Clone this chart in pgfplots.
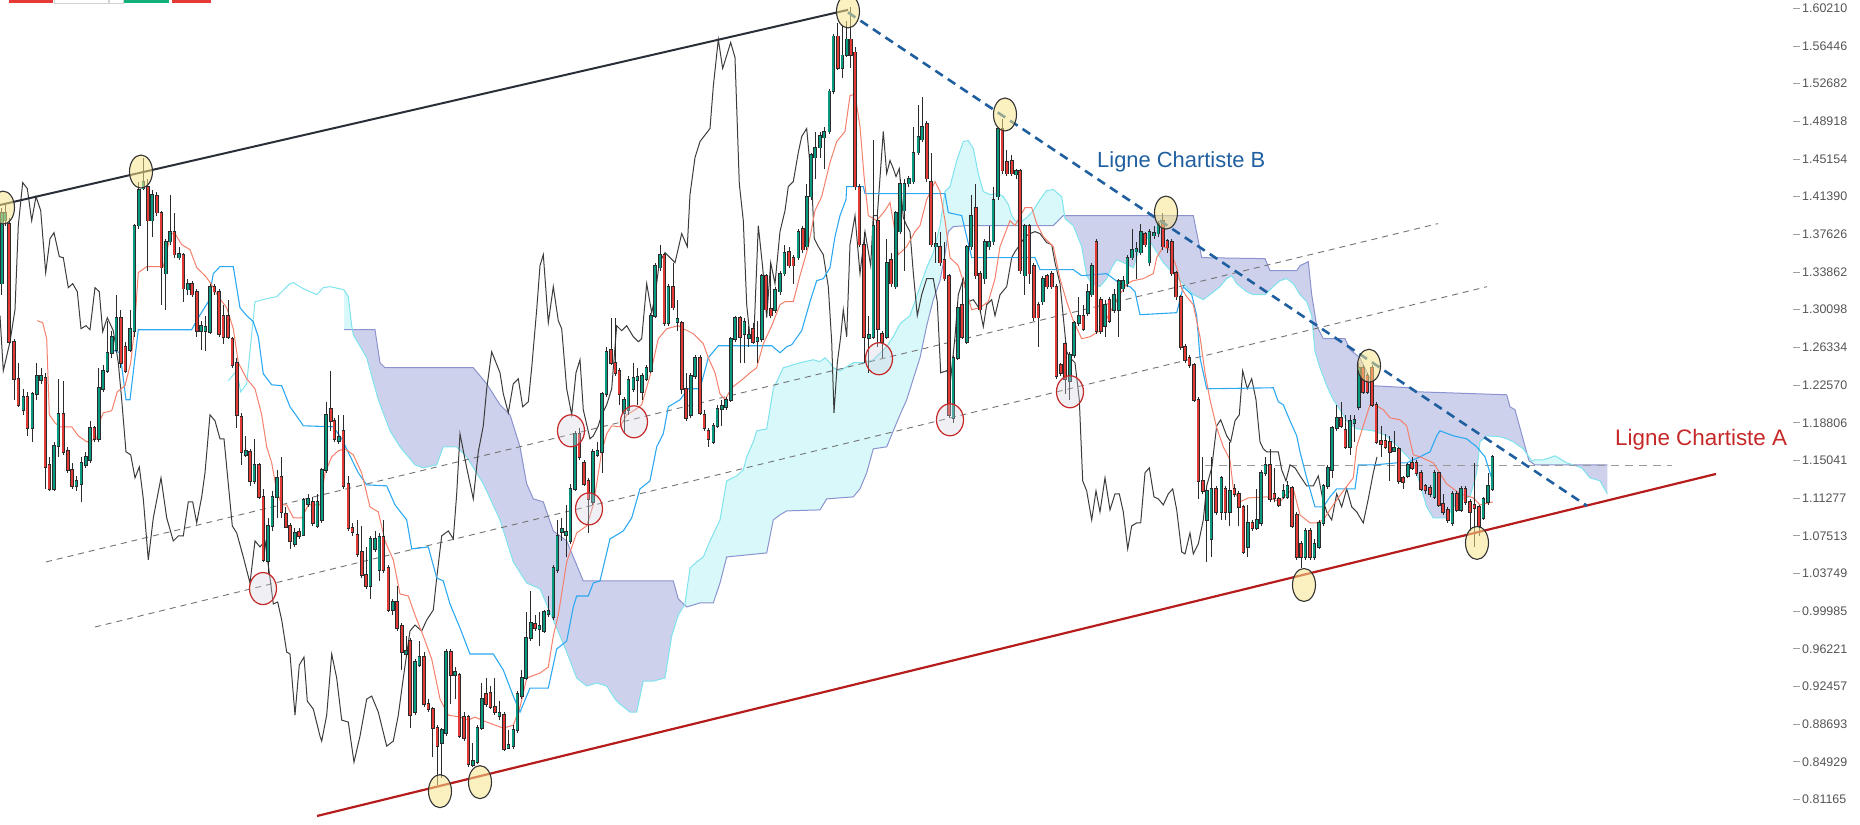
\documentclass[border=0pt]{standalone}
\usepackage{fontspec}
\setmainfont{Liberation Sans}
\usepackage{pgfplots}
\usepackage{pgfplotstable}
\pgfplotsset{compat=1.18}
\usepgfplotslibrary{fillbetween}
\definecolor{upc}{HTML}{089981}
\definecolor{dnc}{HTML}{E53935}
\definecolor{wick}{HTML}{2B2B2B}
\definecolor{tenkan}{HTML}{F4806B}
\definecolor{kijun}{HTML}{2CA9F2}
\definecolor{chikou}{HTML}{3C3C3C}
\definecolor{sa}{HTML}{7FE3EE}
\definecolor{sb}{HTML}{8B93CF}
\definecolor{cyanfill}{HTML}{D8F8F9}
\definecolor{purplefill}{HTML}{CDD1EC}
\definecolor{lineA}{HTML}{B71C1C}
\definecolor{lineB}{HTML}{1F5F9F}
\definecolor{topline}{HTML}{2A2E39}
\definecolor{labgray}{HTML}{555555}
\definecolor{yelc}{HTML}{F7E48A}
\definecolor{redc}{HTML}{C62828}
\definecolor{tbred}{HTML}{E53935}
\definecolor{tbgreen}{HTML}{10B07A}
\pgfdeclareplotmark{yell}{\pgfpathellipse{\pgfpointorigin}{\pgfpoint{11.5bp}{0bp}}{\pgfpoint{0bp}{16.5bp}}\pgfusepathqfillstroke}
\pgfdeclareplotmark{rell}{\pgfpathellipse{\pgfpointorigin}{\pgfpoint{13.5bp}{0bp}}{\pgfpoint{0bp}{16bp}}\pgfusepathqfillstroke}

\pgfplotstableread{
x o h l c
1.7 1.327 1.403 1.316 1.398
5 1.390 1.408 1.385 1.398
23.3 1.201 1.222 1.196 1.214
32.3 1.183 1.219 1.169 1.217
36.7 1.217 1.248 1.211 1.235
41 1.231 1.243 1.227 1.235
54 1.122 1.169 1.120 1.165
58.3 1.165 1.232 1.154 1.197
76.3 1.125 1.135 1.120 1.130
81.3 1.127 1.154 1.109 1.148
85.7 1.146 1.159 1.143 1.154
90 1.151 1.190 1.148 1.183
98.7 1.172 1.243 1.169 1.223
103 1.222 1.246 1.219 1.240
107.3 1.240 1.290 1.238 1.258
111.7 1.258 1.280 1.253 1.274
116.3 1.261 1.316 1.259 1.293
130 1.261 1.301 1.259 1.282
134.3 1.280 1.387 1.274 1.385
138.7 1.385 1.429 1.382 1.421
143.3 1.422 1.453 1.421 1.429
152 1.390 1.421 1.374 1.416
165.7 1.337 1.372 1.301 1.369
170 1.369 1.416 1.366 1.379
179 1.353 1.364 1.351 1.357
187.7 1.321 1.332 1.316 1.327
201 1.280 1.290 1.261 1.285
205.3 1.280 1.295 1.260 1.284
210 1.279 1.327 1.277 1.324
245.7 1.156 1.175 1.154 1.160
254.3 1.130 1.172 1.127 1.146
268 1.050 1.093 1.038 1.085
272.3 1.085 1.120 1.080 1.114
277 1.114 1.141 1.093 1.133
294.7 1.067 1.083 1.064 1.078
303.3 1.076 1.113 1.075 1.111
308 1.107 1.117 1.104 1.112
317.3 1.085 1.117 1.083 1.109
321.7 1.091 1.143 1.088 1.141
326 1.141 1.209 1.138 1.196
338.7 1.170 1.196 1.167 1.174
370.3 1.025 1.075 1.012 1.072
375 1.062 1.080 1.059 1.072
379.3 1.041 1.078 1.030 1.074
392.7 1.001 1.012 0.996 1.009
406 0.957 0.975 0.954 0.960
415 0.899 0.952 0.896 0.949
419.3 0.946 0.970 0.944 0.954
441.7 0.868 0.883 0.833 0.881
446 0.878 0.962 0.875 0.959
455 0.936 0.944 0.912 0.939
472.7 0.846 0.868 0.844 0.850
477.3 0.849 0.886 0.847 0.883
481.7 0.883 0.928 0.881 0.912
499.3 0.895 0.910 0.891 0.898
508.3 0.863 0.881 0.862 0.866
513.3 0.865 0.886 0.862 0.881
517.3 0.881 0.920 0.878 0.917
521.7 0.915 0.941 0.912 0.933
526 0.933 0.999 0.931 0.973
530.7 0.973 1.020 0.970 0.988
539.3 0.982 0.999 0.965 0.985
544 0.980 1.001 0.978 0.999
548.3 0.997 1.015 0.994 1.000
553.3 0.994 1.046 0.991 1.043
557.3 1.041 1.091 1.038 1.075
561.7 1.079 1.093 1.070 1.082
566 1.076 1.106 1.054 1.079
570.3 1.070 1.127 1.067 1.122
575 1.122 1.180 1.120 1.177
592.7 1.109 1.162 1.106 1.159
597.3 1.156 1.169 1.154 1.160
602 1.159 1.219 1.138 1.217
606.3 1.217 1.264 1.214 1.259
624 1.198 1.214 1.177 1.211
628.3 1.201 1.235 1.196 1.231
633.3 1.222 1.248 1.219 1.233
637.3 1.231 1.243 1.206 1.234
642 1.219 1.238 1.211 1.235
646.3 1.232 1.246 1.230 1.243
650.7 1.240 1.298 1.238 1.295
655 1.295 1.348 1.293 1.345
660 1.343 1.366 1.340 1.356
668.3 1.288 1.327 1.285 1.324
677.3 1.289 1.311 1.280 1.292
690.7 1.196 1.238 1.193 1.235
695 1.235 1.256 1.232 1.253
713.3 1.169 1.188 1.167 1.185
717.3 1.185 1.206 1.183 1.202
721.7 1.202 1.211 1.185 1.205
726 1.204 1.214 1.201 1.211
730.7 1.211 1.274 1.209 1.272
735 1.272 1.295 1.269 1.293
744.3 1.277 1.293 1.248 1.289
748.7 1.273 1.285 1.264 1.276
757.3 1.270 1.290 1.248 1.273
761.7 1.272 1.337 1.269 1.335
775 1.301 1.324 1.298 1.321
780 1.319 1.340 1.316 1.337
784.3 1.337 1.366 1.335 1.358
798.3 1.353 1.382 1.351 1.379
806.7 1.364 1.427 1.361 1.414
811 1.414 1.458 1.411 1.456
815 1.453 1.479 1.432 1.463
820 1.463 1.479 1.453 1.475
824 1.473 1.484 1.442 1.479
829.3 1.479 1.521 1.477 1.519
833.3 1.519 1.576 1.516 1.574
842.3 1.542 1.584 1.532 1.555
846.7 1.555 1.589 1.553 1.571
868.7 1.273 1.295 1.238 1.276
873.3 1.274 1.471 1.272 1.385
886.7 1.274 1.372 1.272 1.348
895.7 1.324 1.400 1.322 1.398
900 1.379 1.432 1.377 1.427
904.3 1.400 1.432 1.340 1.427
908.7 1.427 1.435 1.424 1.432
913.3 1.429 1.484 1.427 1.458
918.3 1.458 1.505 1.456 1.474
922 1.471 1.513 1.469 1.484
935.7 1.364 1.379 1.348 1.367
953.3 1.193 1.256 1.188 1.253
957.7 1.253 1.309 1.251 1.303
966.7 1.269 1.366 1.267 1.364
971 1.364 1.416 1.361 1.395
984.7 1.332 1.372 1.327 1.369
989 1.364 1.385 1.361 1.369
993.3 1.369 1.424 1.366 1.411
998 1.414 1.484 1.411 1.482
1016 1.436 1.442 1.432 1.440
1024.7 1.335 1.387 1.316 1.385
1042.7 1.309 1.335 1.306 1.332
1069.7 1.230 1.259 1.211 1.256
1074 1.256 1.290 1.253 1.288
1078.7 1.288 1.314 1.285 1.295
1087.7 1.298 1.327 1.295 1.319
1091.7 1.316 1.348 1.314 1.345
1105 1.285 1.311 1.274 1.306
1114 1.301 1.322 1.298 1.316
1118.7 1.301 1.332 1.274 1.330
1123 1.322 1.335 1.319 1.330
1127.3 1.327 1.356 1.324 1.353
1132 1.353 1.382 1.351 1.361
1136.3 1.359 1.369 1.332 1.362
1140.7 1.358 1.387 1.356 1.379
1149.3 1.348 1.382 1.345 1.379
1154 1.375 1.385 1.372 1.378
1158.3 1.377 1.390 1.374 1.387
1206.7 1.091 1.122 1.049 1.120
1211.3 1.072 1.154 1.054 1.122
1221.3 1.099 1.135 1.091 1.133
1229.7 1.099 1.169 1.085 1.120
1247.7 1.064 1.106 1.054 1.088
1256.7 1.083 1.122 1.081 1.091
1261 1.088 1.141 1.085 1.138
1265.3 1.138 1.154 1.135 1.146
1283.3 1.114 1.127 1.112 1.120
1287.3 1.114 1.130 1.112 1.125
1305.3 1.054 1.083 1.051 1.080
1314.3 1.054 1.072 1.051 1.067
1319 1.064 1.091 1.062 1.088
1323.3 1.088 1.127 1.085 1.125
1327.7 1.125 1.146 1.122 1.143
1332 1.141 1.185 1.133 1.183
1336.7 1.183 1.206 1.180 1.193
1350 1.164 1.196 1.156 1.190
1354.3 1.188 1.196 1.169 1.191
1358.7 1.204 1.248 1.201 1.243
1394 1.160 1.180 1.159 1.163
1407.7 1.135 1.148 1.133 1.146
1434.3 1.114 1.141 1.112 1.138
1452.3 1.088 1.120 1.085 1.117
1461 1.101 1.125 1.099 1.122
1483.3 1.093 1.114 1.091 1.112
1488 1.109 1.138 1.106 1.125
1492.3 1.122 1.156 1.120 1.154
}\up

\pgfplotstableread{
x o h l c
9.3 1.387 1.393 1.267 1.269
14 1.269 1.272 1.211 1.232
18.3 1.232 1.248 1.204 1.206
27.3 1.214 1.219 1.175 1.183
45.3 1.233 1.238 1.122 1.144
49.3 1.146 1.154 1.120 1.122
63.3 1.197 1.230 1.156 1.159
67.7 1.160 1.164 1.138 1.141
72 1.141 1.148 1.122 1.125
94.3 1.183 1.185 1.169 1.172
120.7 1.293 1.301 1.243 1.248
125.3 1.264 1.269 1.238 1.240
147.7 1.424 1.432 1.340 1.390
156.7 1.415 1.419 1.395 1.398
161.3 1.398 1.400 1.306 1.343
174.3 1.379 1.398 1.353 1.356
183.3 1.356 1.358 1.309 1.322
192 1.327 1.330 1.314 1.316
196.7 1.319 1.322 1.274 1.280
214.3 1.324 1.327 1.316 1.319
219 1.319 1.322 1.274 1.277
223.3 1.295 1.306 1.267 1.274
228 1.295 1.311 1.272 1.274
232.3 1.272 1.274 1.243 1.246
236.7 1.248 1.253 1.183 1.196
241.3 1.194 1.198 1.146 1.159
250 1.159 1.162 1.125 1.130
259 1.146 1.148 1.112 1.114
263.3 1.114 1.122 1.049 1.051
281.3 1.134 1.154 1.093 1.099
285.7 1.097 1.104 1.083 1.084
290 1.085 1.088 1.062 1.070
299 1.079 1.083 1.072 1.075
312.7 1.109 1.114 1.085 1.088
330.7 1.202 1.240 1.180 1.190
334.3 1.190 1.193 1.169 1.172
343.3 1.180 1.196 1.122 1.125
348.3 1.127 1.135 1.080 1.083
352.3 1.083 1.088 1.075 1.079
357.3 1.076 1.091 1.054 1.057
361.7 1.059 1.085 1.033 1.036
366 1.036 1.064 1.022 1.025
383.3 1.074 1.091 1.038 1.041
388.3 1.043 1.046 0.999 1.001
397 1.009 1.025 0.980 0.983
401.7 0.985 0.988 0.941 0.959
410 0.970 0.973 0.883 0.896
424 0.954 0.959 0.904 0.907
428.3 0.907 0.912 0.899 0.902
432.7 0.902 0.904 0.854 0.883
437.3 0.883 0.886 0.826 0.865
450.7 0.959 0.962 0.907 0.936
459.3 0.936 0.938 0.873 0.875
464 0.894 0.899 0.870 0.873
468.3 0.894 0.896 0.844 0.847
486 0.917 0.933 0.904 0.907
490.3 0.918 0.925 0.902 0.904
494.7 0.904 0.933 0.896 0.899
504 0.896 0.899 0.860 0.862
535 0.987 0.996 0.980 0.983
579.3 1.177 1.183 1.151 1.154
584 1.148 1.151 1.125 1.127
588.3 1.130 1.133 1.078 1.112
611 1.261 1.293 1.246 1.248
615.3 1.248 1.293 1.235 1.238
619.3 1.240 1.243 1.206 1.217
664.3 1.356 1.358 1.285 1.288
673 1.324 1.348 1.301 1.303
681.7 1.288 1.290 1.217 1.222
686 1.222 1.238 1.190 1.193
700 1.253 1.256 1.196 1.198
704.3 1.196 1.201 1.180 1.183
708.3 1.180 1.183 1.164 1.172
740 1.293 1.295 1.248 1.274
753 1.282 1.288 1.267 1.269
766 1.335 1.337 1.298 1.301
770.7 1.302 1.348 1.293 1.295
789 1.359 1.364 1.343 1.345
793.3 1.353 1.356 1.327 1.345
802.7 1.382 1.385 1.358 1.361
837.7 1.574 1.587 1.540 1.542
850.7 1.571 1.603 1.542 1.555
855 1.558 1.563 1.421 1.424
859.3 1.424 1.427 1.364 1.366
864 1.366 1.379 1.248 1.274
877.7 1.390 1.395 1.264 1.282
882 1.277 1.280 1.253 1.269
891 1.351 1.358 1.324 1.327
926.7 1.487 1.490 1.429 1.432
931 1.429 1.458 1.364 1.366
940 1.364 1.379 1.345 1.348
944.3 1.351 1.369 1.330 1.332
949 1.335 1.337 1.193 1.196
962 1.306 1.332 1.272 1.274
975.7 1.403 1.427 1.332 1.335
980 1.337 1.340 1.298 1.301
1002.3 1.482 1.492 1.437 1.440
1006.7 1.449 1.461 1.435 1.437
1011.7 1.450 1.456 1.435 1.437
1020 1.440 1.442 1.337 1.340
1029.3 1.385 1.387 1.327 1.337
1033.7 1.345 1.348 1.290 1.293
1038.3 1.306 1.309 1.264 1.293
1047 1.335 1.337 1.322 1.324
1051.7 1.337 1.340 1.322 1.324
1056.3 1.324 1.327 1.232 1.235
1060.7 1.246 1.248 1.235 1.238
1065 1.267 1.269 1.217 1.232
1083.3 1.295 1.306 1.280 1.282
1096.3 1.369 1.372 1.277 1.280
1100.7 1.311 1.314 1.277 1.280
1109.3 1.311 1.314 1.288 1.290
1145 1.377 1.379 1.364 1.366
1162.7 1.390 1.398 1.361 1.364
1167.3 1.370 1.372 1.358 1.363
1171.7 1.369 1.372 1.335 1.337
1176 1.338 1.340 1.311 1.314
1180.7 1.314 1.316 1.261 1.264
1185 1.264 1.267 1.248 1.251
1189.3 1.253 1.256 1.243 1.246
1194 1.246 1.248 1.209 1.211
1198.3 1.211 1.214 1.112 1.130
1202.7 1.130 1.154 1.117 1.120
1216 1.122 1.125 1.096 1.099
1225.3 1.122 1.125 1.091 1.099
1234.3 1.122 1.127 1.114 1.117
1238.7 1.117 1.120 1.085 1.104
1243.3 1.104 1.106 1.057 1.059
1252.3 1.088 1.091 1.080 1.083
1270 1.146 1.162 1.109 1.112
1274.3 1.117 1.143 1.109 1.113
1278.7 1.112 1.114 1.104 1.106
1292 1.123 1.125 1.083 1.085
1296.7 1.096 1.099 1.051 1.054
1301 1.067 1.070 1.043 1.054
1310 1.080 1.083 1.051 1.054
1341 1.193 1.209 1.183 1.185
1345.3 1.181 1.196 1.162 1.164
1363 1.243 1.246 1.217 1.219
1367.3 1.235 1.238 1.217 1.219
1372 1.243 1.246 1.204 1.206
1376.3 1.206 1.209 1.167 1.169
1381 1.170 1.185 1.154 1.167
1385.3 1.170 1.177 1.162 1.164
1389.7 1.169 1.175 1.130 1.159
1398.7 1.162 1.164 1.127 1.130
1403 1.133 1.135 1.122 1.129
1412 1.148 1.154 1.141 1.143
1416.3 1.148 1.151 1.135 1.138
1421 1.138 1.141 1.120 1.122
1425.3 1.125 1.127 1.117 1.121
1430 1.123 1.126 1.114 1.117
1438.7 1.138 1.139 1.104 1.106
1443 1.107 1.117 1.096 1.099
1447.7 1.101 1.104 1.088 1.091
1456.7 1.117 1.120 1.099 1.101
1465.3 1.122 1.125 1.106 1.109
1470 1.109 1.112 1.080 1.099
1474.3 1.106 1.148 1.064 1.103
1479 1.104 1.106 1.075 1.085
}\down

\begin{document}
\begin{tikzpicture}
\begin{axis}[
  set layers,
  scale only axis, width=1793bp, height=825bp,
  xmin=0, xmax=1793, ymin=0.7862, ymax=1.6104,
  axis line style={draw=none},
  xtick=\empty,
  ytick={0.81165,0.84929,0.88693,0.92457,0.96221,0.99985,1.03749,1.07513,1.11277,1.15041,1.18806,1.22570,1.26334,1.30098,1.33862,1.37626,1.41390,1.45154,1.48918,1.52682,1.56446,1.60210},
  yticklabels={0.81165,0.84929,0.88693,0.92457,0.96221,0.99985,1.03749,1.07513,1.11277,1.15041,1.18806,1.22570,1.26334,1.30098,1.33862,1.37626,1.41390,1.45154,1.48918,1.52682,1.56446,1.60210},
  ytick pos=right, yticklabel pos=right,
  tick align=outside, major tick length=6.5bp,
  tick style={color=gray!75, line width=0.7bp},
  yticklabel style={font=\fontsize{12.5}{14}\selectfont, text=labgray, anchor=west, inner sep=2.5bp},
]
% ---- Senkou B and A (named paths) ----
\addplot[sb, line width=1bp, name path=SB] coordinates {(344,1.281) (375,1.281) (380,1.248) (385,1.243) (473.3,1.243) (486.7,1.227) (500,1.206) (510,1.196) (520,1.164) (526.7,1.127) (533.3,1.112) (543.3,1.109) (553.3,1.080) (566.7,1.070) (583.3,1.030) (673.3,1.030) (678.3,1.012) (686.7,1.004) (700,1.008) (713.3,1.008) (720,1.028) (726.7,1.054) (766.7,1.058) (773.3,1.091) (780,1.096) (786.7,1.100) (820,1.101) (826.7,1.112) (853.3,1.114) (860,1.122) (866.7,1.138) (873.3,1.162) (886.7,1.164) (893.3,1.180) (900,1.196) (906.7,1.211) (913.3,1.232) (920,1.253) (926.7,1.285) (933.3,1.311) (940,1.330) (945,1.356) (948.3,1.379) (953.3,1.384) (966.7,1.385) (1053.3,1.385) (1063.3,1.395) (1193.3,1.395) (1201.7,1.353) (1265,1.352) (1270,1.340) (1296.7,1.340) (1300,1.345) (1308.3,1.349) (1311.7,1.316) (1316.7,1.285) (1323.3,1.272) (1345,1.272) (1350,1.261) (1360,1.253) (1373.3,1.225) (1410,1.223) (1416.7,1.219) (1506.7,1.216) (1510,1.204) (1515,1.201) (1529,1.150) (1535,1.146) (1607.3,1.146)};
\addplot[sa, line width=1bp, name path=SA] coordinates {(344,1.321) (348.3,1.314) (351.7,1.285) (353.3,1.276) (366.7,1.253) (378.3,1.211) (390,1.180) (400,1.164) (415,1.146) (423.3,1.143) (436.7,1.146) (443.3,1.164) (456.7,1.164) (466.7,1.154) (483.3,1.127) (500,1.091) (513.3,1.049) (526.7,1.028) (540,1.022) (553.3,0.991) (566.7,0.959) (576.7,0.933) (586.7,0.925) (596.7,0.928) (606.7,0.925) (615,0.912) (620,0.907) (630,0.899) (636.7,0.899) (643.3,0.930) (653.3,0.930) (665,0.933) (671.7,0.975) (678.3,0.996) (685,1.007) (690,1.043) (696.7,1.049) (703.3,1.054) (710,1.070) (720,1.091) (726.7,1.130) (736.7,1.135) (743.3,1.141) (746.7,1.154) (753.3,1.169) (756.7,1.180) (766.7,1.182) (773.3,1.222) (783.3,1.243) (800,1.248) (813.3,1.251) (820,1.249) (825,1.253) (830,1.248) (833.3,1.243) (840,1.240) (853.3,1.248) (863.3,1.248) (873.3,1.251) (886.7,1.264) (893.3,1.274) (900,1.287) (910,1.295) (920,1.324) (926.7,1.343) (933.3,1.358) (940,1.385) (945,1.419) (950,1.424) (956.7,1.450) (963.3,1.469) (968.3,1.470) (973.3,1.462) (978.3,1.437) (983.3,1.419) (990,1.416) (998.3,1.417) (1003.3,1.414) (1008.3,1.406) (1011.7,1.395) (1015,1.390) (1020,1.388) (1026.7,1.393) (1033.3,1.400) (1040,1.411) (1046.7,1.420) (1053.3,1.421) (1061.7,1.414) (1065,1.392) (1073.3,1.385) (1081.7,1.364) (1086.7,1.335) (1091.7,1.327) (1100,1.324) (1106.7,1.332) (1111.7,1.343) (1116.7,1.351) (1123.3,1.348) (1133.3,1.343) (1140,1.364) (1146.7,1.374) (1153.3,1.364) (1163.3,1.348) (1173.3,1.337) (1183.3,1.327) (1193.3,1.316) (1203.3,1.311) (1210,1.316) (1220,1.324) (1226.7,1.332) (1231.7,1.335) (1236.7,1.327) (1246.7,1.319) (1253.3,1.316) (1265,1.316) (1273.3,1.324) (1280,1.330) (1286.7,1.332) (1293.3,1.327) (1300,1.316) (1306.7,1.309) (1311.7,1.295) (1315,1.259) (1320,1.243) (1326.7,1.225) (1333.3,1.211) (1340,1.201) (1346.7,1.190) (1356.7,1.182) (1373.3,1.180) (1386.7,1.175) (1400,1.162) (1413.3,1.148) (1420,1.127) (1426.7,1.104) (1433.3,1.093) (1446.7,1.093) (1453.3,1.104) (1463.3,1.112) (1470,1.114) (1476.7,1.138) (1480,1.169) (1486.7,1.175) (1500,1.174) (1506.7,1.172) (1513.3,1.169) (1523.3,1.162) (1531.7,1.150) (1535,1.151) (1543.3,1.151) (1555,1.155) (1566.7,1.148) (1581.7,1.143) (1590,1.133) (1600,1.130) (1607.3,1.117)};
\addplot fill between[of=SA and SB, split, every even segment/.style={fill=cyanfill}, every odd segment/.style={fill=purplefill}];
\addplot[sa, line width=1bp] coordinates {(228.3,1.230) (236.7,1.240) (240.7,1.219) (246.7,1.227) (255,1.309) (266.7,1.312) (276.7,1.314) (290,1.327) (293.3,1.328) (303.3,1.322) (316.7,1.316) (323.3,1.323) (330,1.324) (344,1.321)};
% ---- gray dashed channel lines ----
\addplot[gray!90!black, line width=0.9bp, dash pattern=on 6bp off 5bp] coordinates {(46,1.049) (1438,1.387)};
\addplot[gray!90!black, line width=0.9bp, dash pattern=on 6bp off 5bp] coordinates {(95,0.984) (1487,1.324)};
\addplot[gray!80, line width=1.6bp, dash pattern=on 8bp off 6bp] coordinates {(1205,1.1452) (1672,1.1452)};
% ---- Chikou ----
\addplot[chikou, line width=1bp] coordinates {(0,1.295) (3.3,1.240) (10,1.269) (15,1.301) (18.3,1.385) (22.7,1.428) (27.3,1.422) (31.7,1.390) (36,1.414) (40.7,1.400) (45.7,1.338) (50,1.372) (54,1.378) (59.3,1.354) (63.3,1.353) (68.3,1.323) (72.7,1.327) (77.3,1.319) (81,1.282) (86,1.285) (90,1.281) (95,1.323) (99.3,1.319) (102.7,1.279) (107.3,1.293) (113.3,1.280) (118.3,1.248) (121.7,1.211) (126,1.159) (130.7,1.156) (135,1.133) (139.3,1.144) (143.3,1.112) (148.3,1.051) (153.3,1.093) (161,1.133) (166.7,1.093) (173.3,1.070) (178.3,1.075) (183.3,1.075) (188.3,1.109) (192.7,1.109) (196.7,1.088) (201.7,1.114) (205,1.138) (210,1.196) (215,1.190) (220,1.172) (224,1.172) (228.3,1.127) (232.3,1.085) (236.7,1.078) (243.3,1.054) (250,1.028) (255,1.070) (260,1.064) (265,1.070) (270,1.033) (273.3,1.007) (277.7,1.009) (281.7,0.991) (286.7,0.959) (290,0.957) (295,0.896) (299.3,0.946) (304,0.954) (307.3,0.910) (313.3,0.902) (320,0.875) (321.7,0.870) (326.7,0.896) (331.7,0.957) (336.7,0.933) (341.7,0.891) (348.3,0.889) (354,0.849) (360,0.875) (366.7,0.912) (371.7,0.915) (378.3,0.899) (386.7,0.865) (393.3,0.870) (398.3,0.896) (403.3,0.933) (410,0.980) (415,0.986) (421.7,0.980) (426.7,0.991) (433.3,1.001) (436.7,1.033) (441.7,1.075) (448.3,1.080) (453.3,1.072) (456.7,1.117) (460,1.177) (466.7,1.143) (473.3,1.112) (478.3,1.159) (483.3,1.185) (486.7,1.222) (491.7,1.259) (500,1.238) (503.3,1.217) (508.3,1.198) (513.3,1.227) (518.3,1.232) (522.7,1.204) (528.3,1.209) (531.7,1.243) (536.7,1.301) (540,1.345) (543.3,1.356) (548.3,1.288) (553.3,1.324) (558.3,1.290) (561.7,1.282) (566.7,1.222) (571.7,1.196) (576,1.238) (580,1.251) (583.3,1.201) (590,1.172) (593.3,1.175) (598.3,1.185) (601.7,1.196) (606.7,1.206) (611.7,1.222) (616.7,1.285) (621.7,1.280) (626.7,1.285) (633.3,1.274) (638.3,1.269) (641.7,1.272) (646.7,1.327) (651.7,1.298) (655,1.314) (659.3,1.348) (665,1.358) (670,1.353) (675,1.348) (681.7,1.377) (687.3,1.364) (690,1.416) (695,1.453) (700,1.469) (710,1.482) (713.3,1.524) (718.3,1.571) (722.7,1.542) (726.7,1.555) (730.7,1.568) (735,1.553) (739.3,1.427) (743.3,1.390) (746.7,1.306) (750,1.274) (754,1.277) (758.3,1.385) (762.7,1.343) (766.7,1.293) (770.7,1.348) (775,1.327) (780,1.379) (785,1.400) (788.3,1.424) (793.3,1.429) (798.3,1.458) (801.7,1.474) (806.7,1.482) (811.7,1.427) (814.3,1.372) (818.3,1.364) (823.3,1.356) (828.3,1.324) (831.7,1.269) (834,1.198) (837.3,1.248) (840.7,1.274) (843.3,1.301) (846.7,1.274) (850,1.366) (855,1.395) (860,1.337) (865,1.379) (870.7,1.345) (873.3,1.395) (877.3,1.395) (883.3,1.479) (886.7,1.437) (890,1.450) (893.3,1.442) (896,1.434) (899.3,1.442) (903.3,1.393) (906.7,1.385) (910,1.379) (913.3,1.338) (917.3,1.295) (921.7,1.316) (926.7,1.332) (933.3,1.332) (937.3,1.309) (940.7,1.238) (946.7,1.240) (950.7,1.232) (955,1.274) (958.3,1.316) (963.3,1.332) (968.3,1.309) (973.3,1.311) (980,1.301) (983.3,1.284) (986.7,1.306) (991.7,1.311) (995,1.295) (1000,1.316) (1006.7,1.324) (1011.7,1.353) (1015,1.359) (1020,1.366) (1025,1.374) (1030,1.377) (1035,1.379) (1040,1.377) (1046.7,1.368) (1051.7,1.366) (1055,1.348) (1060,1.327) (1066.7,1.259) (1070,1.253) (1075,1.248) (1079.3,1.211) (1082.7,1.130) (1086.7,1.120) (1091.7,1.091) (1096,1.120) (1100,1.099) (1105,1.133) (1110,1.101) (1115,1.117) (1119.3,1.117) (1123.3,1.099) (1127.7,1.062) (1131.7,1.085) (1136.7,1.088) (1140.7,1.088) (1145,1.138) (1149.3,1.143) (1154,1.114) (1158.3,1.112) (1163.3,1.106) (1168.3,1.117) (1172.7,1.122) (1176.7,1.101) (1181.7,1.059) (1185,1.057) (1190,1.078) (1193.3,1.057) (1198.3,1.067) (1203.3,1.091) (1206.7,1.125) (1211.7,1.143) (1216.7,1.185) (1220.7,1.191) (1226.7,1.175) (1230.7,1.169) (1235,1.190) (1239.3,1.196) (1242.7,1.240) (1247.3,1.222) (1251.7,1.232) (1256,1.211) (1260,1.169) (1263.3,1.162) (1266.7,1.159) (1278.3,1.159) (1281.7,1.141) (1286,1.130) (1290,1.146) (1295,1.143) (1300,1.135) (1306.7,1.125) (1313.3,1.125) (1318.3,1.135) (1322.7,1.112) (1326.7,1.099) (1331.7,1.091) (1336.7,1.117) (1341.7,1.104) (1346.7,1.122) (1351.7,1.104) (1356.7,1.099) (1363.3,1.088) (1368.3,1.112) (1373.3,1.138) (1377,1.154)};
% ---- Kijun ----
\addplot[kijun, line width=1.1bp] coordinates {(111.7,1.261) (120,1.258) (126,1.211) (130,1.211) (138.3,1.281) (191.7,1.281) (198.3,1.293) (208.3,1.309) (213.3,1.337) (220,1.344) (233.3,1.344) (240,1.303) (246.7,1.295) (253.3,1.289) (258.3,1.274) (263.3,1.237) (271.7,1.226) (281.7,1.225) (290,1.204) (300,1.190) (303.3,1.185) (333.3,1.184) (341.7,1.172) (358.3,1.138) (366.7,1.126) (386.7,1.125) (395,1.106) (406.7,1.091) (411.7,1.062) (428.3,1.064) (436.7,1.033) (443.3,1.030) (450,1.007) (460,0.983) (470,0.957) (493.3,0.957) (503.3,0.941) (513.3,0.915) (520,0.899) (530,0.923) (548.3,0.923) (556.7,0.962) (566.7,0.970) (573.3,1.004) (576.7,1.015) (588.3,1.015) (593.3,1.028) (600,1.030) (610,1.072) (620,1.078) (623.3,1.080) (631.7,1.093) (640,1.122) (650,1.130) (656.7,1.164) (663.3,1.177) (668.3,1.204) (680,1.211) (688.3,1.222) (700,1.222) (708.3,1.253) (718.3,1.265) (771.7,1.265) (780,1.258) (786.7,1.264) (791.7,1.266) (801.7,1.280) (810,1.309) (816.7,1.330) (823.3,1.332) (830,1.343) (835,1.374) (840,1.395) (846,1.411) (846.7,1.424) (863.3,1.424) (865,1.417) (945,1.417) (948.3,1.398) (961.7,1.395) (971.7,1.353) (1035,1.353) (1040,1.341) (1073.3,1.341) (1081.7,1.335) (1106.7,1.337) (1120,1.327) (1130,1.324) (1135,1.319) (1140,1.296) (1176.7,1.298) (1183.3,1.324) (1191.7,1.316) (1196.7,1.295) (1200,1.253) (1206.7,1.222) (1273.3,1.223) (1278.3,1.209) (1283.3,1.206) (1290,1.190) (1296.7,1.175) (1300,1.159) (1306.7,1.133) (1315,1.104) (1323.3,1.104) (1330,1.114) (1336.7,1.122) (1355,1.122) (1358.3,1.146) (1375,1.146) (1396.7,1.148) (1406.7,1.148) (1420,1.154) (1430,1.159) (1436.7,1.175) (1440,1.180) (1453.3,1.175) (1466.7,1.172) (1476.7,1.164) (1485,1.154) (1490,1.138) (1492.7,1.130)};
% ---- Tenkan ----
\addplot[tenkan, line width=1bp] coordinates {(37.3,1.290) (42.7,1.288) (46.7,1.272) (49.3,1.196) (55,1.188) (59.3,1.184) (71.7,1.184) (78.3,1.175) (86.7,1.169) (96.7,1.172) (100,1.190) (103.3,1.198) (111.7,1.200) (117.3,1.219) (125,1.225) (130.7,1.248) (134.3,1.280) (138.3,1.338) (146.7,1.344) (163.3,1.344) (168.3,1.366) (171.7,1.377) (175,1.377) (181.7,1.366) (190,1.361) (196.7,1.343) (205,1.335) (211,1.327) (218.3,1.314) (226.7,1.303) (233.3,1.282) (238.3,1.248) (246.7,1.232) (255,1.222) (261.7,1.196) (266.7,1.164) (271.7,1.148) (276.7,1.120) (281.7,1.106) (286.7,1.106) (293.3,1.093) (301.7,1.093) (308.3,1.106) (320,1.106) (325,1.138) (331.7,1.154) (338.3,1.160) (345,1.162) (353.3,1.156) (361.7,1.138) (370,1.104) (378.3,1.099) (385,1.070) (393.3,1.051) (400,1.017) (408.3,1.015) (415,0.996) (423.3,0.975) (431.7,0.952) (440,0.912) (448.3,0.896) (460,0.894) (468.3,0.891) (475,0.894) (486.7,0.889) (495,0.886) (503.3,0.883) (513.3,0.886) (520,0.904) (526.7,0.933) (540,0.938) (548.3,0.944) (553.3,0.975) (558.3,0.996) (566.7,1.049) (576.7,1.078) (586.7,1.085) (593.3,1.106) (601.7,1.159) (606.7,1.177) (611.7,1.185) (620,1.184) (626.7,1.196) (635,1.201) (641.7,1.206) (650,1.235) (658.3,1.272) (666.7,1.282) (678.3,1.285) (683.3,1.282) (693.3,1.277) (703.3,1.267) (708.3,1.253) (715,1.238) (720,1.217) (725,1.211) (731.7,1.223) (743.3,1.232) (750,1.238) (756.7,1.243) (763.3,1.267) (771.7,1.285) (780,1.306) (785,1.309) (793.3,1.309) (800,1.335) (808.3,1.364) (815,1.400) (821.7,1.414) (830,1.448) (836.7,1.469) (845,1.479) (850,1.515) (855,1.516) (860,1.484) (864,1.435) (868.3,1.395) (876.7,1.390) (885,1.400) (890,1.408) (895,1.379) (898.3,1.356) (906.7,1.364) (915,1.379) (920,1.385) (926.7,1.411) (935,1.429) (940,1.419) (945,1.390) (950,1.353) (958.3,1.345) (965,1.324) (971.7,1.301) (980,1.303) (988.3,1.309) (995,1.332) (1000,1.364) (1010,1.390) (1015,1.385) (1025,1.403) (1031.7,1.403) (1036.7,1.387) (1043.3,1.374) (1053.3,1.364) (1060,1.332) (1066.7,1.309) (1073.3,1.290) (1081.7,1.272) (1090,1.274) (1100,1.280) (1108.3,1.295) (1116.7,1.311) (1126.7,1.327) (1133.3,1.330) (1143.3,1.332) (1153.3,1.337) (1156.7,1.353) (1163.3,1.364) (1170,1.361) (1176.7,1.343) (1181.7,1.322) (1186.7,1.314) (1193.3,1.306) (1200,1.274) (1205,1.238) (1210,1.211) (1216.7,1.183) (1223.3,1.164) (1230,1.151) (1233.3,1.122) (1240,1.109) (1248.3,1.113) (1266.7,1.114) (1280,1.109) (1286.7,1.117) (1293.3,1.122) (1300,1.096) (1310,1.088) (1316.7,1.088) (1323.3,1.091) (1333.3,1.106) (1343.3,1.120) (1353.3,1.133) (1356.7,1.164) (1363.3,1.185) (1370,1.206) (1375,1.206) (1383.3,1.201) (1390,1.193) (1400,1.191) (1406.7,1.185) (1413.3,1.156) (1420,1.154) (1433.3,1.148) (1446.7,1.127) (1460,1.117) (1473.3,1.113) (1480,1.106) (1492.7,1.109)};
% ---- Candles: wicks ----
\addplot[draw=none, error bars/.cd, y dir=both, y explicit, error mark=none, error bar style={line width=1bp, color=wick}] table[x=x, y expr={(\thisrow{h}+\thisrow{l})/2}, y error expr={(\thisrow{h}-\thisrow{l})/2}] {\up};
\addplot[draw=none, error bars/.cd, y dir=both, y explicit, error mark=none, error bar style={line width=1bp, color=wick}] table[x=x, y expr={(\thisrow{h}+\thisrow{l})/2}, y error expr={(\thisrow{h}-\thisrow{l})/2}] {\down};
% ---- Candles: body outlines ----
\addplot[draw=none, error bars/.cd, y dir=both, y explicit, error mark=none, error bar style={line width=3.6bp, color=wick}] table[x=x, y expr={(\thisrow{o}+\thisrow{c})/2}, y error expr={max(abs(\thisrow{c}-\thisrow{o})/2,0.0008)+0.0008}] {\up};
\addplot[draw=none, error bars/.cd, y dir=both, y explicit, error mark=none, error bar style={line width=3.6bp, color=wick}] table[x=x, y expr={(\thisrow{o}+\thisrow{c})/2}, y error expr={max(abs(\thisrow{c}-\thisrow{o})/2,0.0008)+0.0008}] {\down};
% ---- Candles: bodies ----
\addplot[draw=none, error bars/.cd, y dir=both, y explicit, error mark=none, error bar style={line width=2.2bp, color=upc}] table[x=x, y expr={(\thisrow{o}+\thisrow{c})/2}, y error expr={max(abs(\thisrow{c}-\thisrow{o})/2,0.0008)}] {\up};
\addplot[draw=none, error bars/.cd, y dir=both, y explicit, error mark=none, error bar style={line width=2.2bp, color=dnc}] table[x=x, y expr={(\thisrow{o}+\thisrow{c})/2}, y error expr={max(abs(\thisrow{c}-\thisrow{o})/2,0.0008)}] {\down};
% ---- trend lines ----
\addplot[topline, line width=2bp] coordinates {(0,1.4056) (848,1.6005)};
\addplot[lineA, line width=2.2bp] coordinates {(317,0.7952) (1716,1.1369)};
\addplot[lineB, line width=2.6bp, dash pattern=on 9bp off 6bp] coordinates {(848,1.598) (1587,1.105)};
% ---- highlight ellipses ----
\addplot[only marks, mark=rell, mark options={draw=redc, line width=1.2bp, fill=blue!20!gray!30, fill opacity=0.35}] coordinates {(263,1.0224) (571,1.180) (589,1.102) (634,1.189) (879,1.252) (950,1.191) (1070,1.219)};
\addplot[only marks, mark=yell, mark options={draw=gray!40!black, line width=1.1bp, fill=yelc, fill opacity=0.55}] coordinates {(3,1.403) (141,1.439) (440,0.820) (480,0.829) (848,1.599) (1005,1.496) (1166,1.398) (1369,1.245) (1304,1.026) (1477,1.068)};
% ---- labels ----
\node[anchor=base west, text=lineB, font=\fontsize{22}{26}\selectfont, inner sep=0pt] at (axis cs:1097,1.4426) {Ligne Chartiste B};
\node[anchor=base west, text=redc, font=\fontsize{22.5}{26}\selectfont, inner sep=0pt] at (axis cs:1615,1.165) {Ligne Chartiste A};
\end{axis}
% toolbar remnants at top-left
\fill[tbred] (9bp,822bp) rectangle (53bp,825bp);
\draw[gray!35, line width=0.6bp] (54bp,822bp) rectangle (108bp,825.5bp);
\draw[gray!35, line width=0.6bp] (109bp,822bp) rectangle (123bp,825.5bp);
\fill[tbgreen] (124bp,822bp) rectangle (169bp,825bp);
\fill[tbred] (172bp,822bp) rectangle (211bp,825bp);
\pgfresetboundingbox
\path[use as bounding box] (0,0) rectangle (1860bp,825bp);
\end{tikzpicture}
\end{document}
